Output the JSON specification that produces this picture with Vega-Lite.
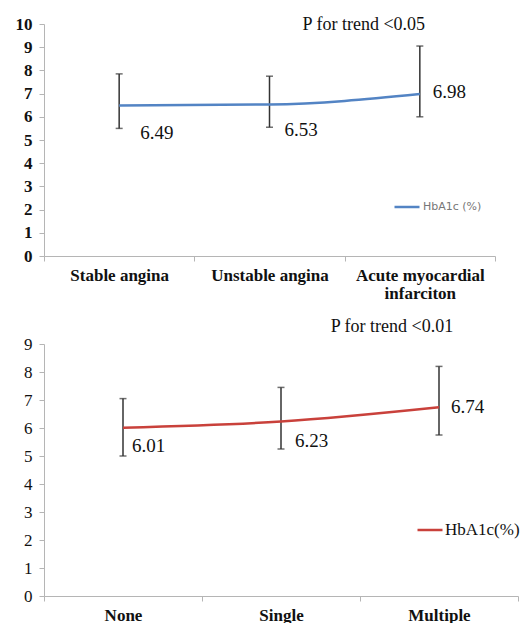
{
  "$schema": "https://vega.github.io/schema/vega-lite/v6.json",
  "padding": {"top": 15, "left": 15, "right": 0, "bottom": 0},
  "spacing": 17,
  "background": "white",
  "config": {
    "font": "Liberation Serif",
    "view": {"stroke": null},
    "text": {"font": "Liberation Serif"},
    "axis": {"labelFont": "Liberation Serif", "labelColor": "#111", "labelFontSize": 17, "domainColor": "#b5b5b5", "tickColor": "#b5b5b5", "tickSize": 5, "grid": false, "title": null},
    "legend": {"labelFont": "Liberation Serif"}
  },
  "resolve": {"scale": {"color": "independent", "x": "independent", "y": "independent"}, "legend": {"color": "independent"}},
  "vconcat": [
    {
      "width": 451,
      "height": 232,
      "data": {"values": [
        {"group": "Stable angina", "mean": 6.49, "low": 5.5, "high": 7.85, "series": "HbA1c (%)"},
        {"group": "Unstable angina", "mean": 6.53, "low": 5.55, "high": 7.75, "series": "HbA1c (%)"},
        {"group": "Acute myocardial infarciton", "mean": 6.98, "low": 6.0, "high": 9.05, "series": "HbA1c (%)"}
      ]},
      "encoding": {
        "x": {"field": "group", "type": "nominal", "sort": null,
          "scale": {"type": "band", "paddingInner": 0, "paddingOuter": 0},
          "axis": {"title": null, "labelAngle": 0, "tickBand": "extent", "labelFont": "Liberation Serif", "labelFontSize": 17, "labelFontWeight": "bold", "labelPadding": 6, "labelLineHeight": 18,
            "labelExpr": "datum.label == 'Acute myocardial infarciton' ? ['Acute myocardial', 'infarciton'] : datum.label"}},
        "y": {"field": "mean", "type": "quantitative", "scale": {"domain": [0, 10]},
          "axis": {"title": null, "values": [0,1,2,3,4,5,6,7,8,9,10], "labelOverlap": false, "labelFont": "Liberation Serif", "labelFontSize": 17, "labelFontWeight": "bold", "labelPadding": 7}}
      },
      "layer": [
        {"mark": {"type": "rule", "strokeWidth": 1.5, "color": "#333"},
         "encoding": {"y": {"field": "low", "type": "quantitative", "scale": {"domain": [0, 10]},
            "axis": {"title": null, "values": [0,1,2,3,4,5,6,7,8,9,10], "labelOverlap": false, "labelFont": "Liberation Serif", "labelFontSize": 17, "labelFontWeight": "bold", "labelPadding": 7}},
           "y2": {"field": "high"}}},
        {"mark": {"type": "tick", "size": 7, "thickness": 1.5, "color": "#333"},
         "encoding": {"y": {"field": "low", "type": "quantitative", "scale": {"domain": [0, 10]},
            "axis": {"title": null, "values": [0,1,2,3,4,5,6,7,8,9,10], "labelOverlap": false, "labelFont": "Liberation Serif", "labelFontSize": 17, "labelFontWeight": "bold", "labelPadding": 7}}}},
        {"mark": {"type": "tick", "size": 7, "thickness": 1.5, "color": "#333"},
         "encoding": {"y": {"field": "high", "type": "quantitative", "scale": {"domain": [0, 10]},
            "axis": {"title": null, "values": [0,1,2,3,4,5,6,7,8,9,10], "labelOverlap": false, "labelFont": "Liberation Serif", "labelFontSize": 17, "labelFontWeight": "bold", "labelPadding": 7}}}},
        {"mark": {"type": "line", "interpolate": "monotone", "strokeWidth": 2.5},
         "encoding": {
           "color": {"field": "series", "type": "nominal", "scale": {"range": ["#5384c4"]},
             "legend": {"orient": "none", "legendX": 349, "legendY": 169, "title": null, "symbolType": "stroke", "symbolSize": 625, "symbolStrokeWidth": 2.5,
               "labelFont": "DejaVu Sans", "labelFontSize": 11, "labelColor": "#777", "labelOffset": 2, "padding": 0}}}},
        {"transform": [{"filter": "datum.group == 'Stable angina'"}],
         "mark": {"type": "text", "align": "left", "baseline": "middle", "dx": 21, "dy": 28, "font": "Liberation Serif", "fontSize": 19, "color": "#111"},
         "encoding": {"text": {"field": "mean", "type": "quantitative", "format": ".2f"}}},
        {"transform": [{"filter": "datum.group == 'Unstable angina'"}],
         "mark": {"type": "text", "align": "left", "baseline": "middle", "dx": 15, "dy": 25, "font": "Liberation Serif", "fontSize": 19, "color": "#111"},
         "encoding": {"text": {"field": "mean", "type": "quantitative", "format": ".2f"}}},
        {"transform": [{"filter": "datum.group == 'Acute myocardial infarciton'"}],
         "mark": {"type": "text", "align": "left", "baseline": "middle", "dx": 13, "dy": -2, "font": "Liberation Serif", "fontSize": 19, "color": "#111"},
         "encoding": {"text": {"field": "mean", "type": "quantitative", "format": ".2f"}}},
        {"transform": [{"filter": "datum.group == 'Acute myocardial infarciton'"}],
         "mark": {"type": "text", "align": "center", "baseline": "middle", "dx": -56, "dy": 1, "font": "Liberation Serif", "fontSize": 18, "color": "#111"},
         "encoding": {"y": {"datum": 10, "type": "quantitative", "scale": {"domain": [0, 10]},
            "axis": {"title": null, "values": [0,1,2,3,4,5,6,7,8,9,10], "labelOverlap": false, "labelFont": "Liberation Serif", "labelFontSize": 17, "labelFontWeight": "bold", "labelPadding": 7}},
           "text": {"value": "P for trend <0.05"}}}
      ]
    },
    {
      "width": 474,
      "height": 252,
      "data": {"values": [
        {"group": "None", "mean": 6.01, "low": 5.0, "high": 7.05, "series": "HbA1c(%)"},
        {"group": "Single", "mean": 6.23, "low": 5.25, "high": 7.45, "series": "HbA1c(%)"},
        {"group": "Multiple", "mean": 6.74, "low": 5.75, "high": 8.2, "series": "HbA1c(%)"}
      ]},
      "encoding": {
        "x": {"field": "group", "type": "nominal", "sort": null,
          "scale": {"type": "band", "paddingInner": 0, "paddingOuter": 0},
          "axis": {"title": null, "labelAngle": 0, "tickBand": "extent", "labelFont": "Liberation Serif", "labelFontSize": 17, "labelFontWeight": "bold", "labelPadding": 6}},
        "y": {"field": "mean", "type": "quantitative", "scale": {"domain": [0, 9]},
          "axis": {"title": null, "values": [0,1,2,3,4,5,6,7,8,9], "labelOverlap": false, "labelFont": "Liberation Serif", "labelFontSize": 17, "labelPadding": 7}}
      },
      "layer": [
        {"mark": {"type": "rule", "strokeWidth": 1.5, "color": "#333"},
         "encoding": {"y": {"field": "low", "type": "quantitative", "scale": {"domain": [0, 9]},
            "axis": {"title": null, "values": [0,1,2,3,4,5,6,7,8,9], "labelOverlap": false, "labelFont": "Liberation Serif", "labelFontSize": 17, "labelPadding": 7}},
           "y2": {"field": "high"}}},
        {"mark": {"type": "tick", "size": 7, "thickness": 1.5, "color": "#333"},
         "encoding": {"y": {"field": "low", "type": "quantitative", "scale": {"domain": [0, 9]},
            "axis": {"title": null, "values": [0,1,2,3,4,5,6,7,8,9], "labelOverlap": false, "labelFont": "Liberation Serif", "labelFontSize": 17, "labelPadding": 7}}}},
        {"mark": {"type": "tick", "size": 7, "thickness": 1.5, "color": "#333"},
         "encoding": {"y": {"field": "high", "type": "quantitative", "scale": {"domain": [0, 9]},
            "axis": {"title": null, "values": [0,1,2,3,4,5,6,7,8,9], "labelOverlap": false, "labelFont": "Liberation Serif", "labelFontSize": 17, "labelPadding": 7}}}},
        {"mark": {"type": "line", "interpolate": "monotone", "strokeWidth": 2.5},
         "encoding": {
           "color": {"field": "series", "type": "nominal", "scale": {"range": ["#c9413b"]},
             "legend": {"orient": "none", "legendX": 372, "legendY": 172, "title": null, "symbolType": "stroke", "symbolSize": 625, "symbolStrokeWidth": 2.5,
               "labelFont": "Liberation Serif", "labelFontSize": 17, "labelColor": "#111", "labelOffset": 1, "padding": 0}}}},
        {"transform": [{"filter": "datum.group == 'None'"}],
         "mark": {"type": "text", "align": "left", "baseline": "middle", "dx": 9, "dy": 18, "font": "Liberation Serif", "fontSize": 19, "color": "#111"},
         "encoding": {"text": {"field": "mean", "type": "quantitative", "format": ".2f"}}},
        {"transform": [{"filter": "datum.group == 'Single'"}],
         "mark": {"type": "text", "align": "left", "baseline": "middle", "dx": 14, "dy": 19, "font": "Liberation Serif", "fontSize": 19, "color": "#111"},
         "encoding": {"text": {"field": "mean", "type": "quantitative", "format": ".2f"}}},
        {"transform": [{"filter": "datum.group == 'Multiple'"}],
         "mark": {"type": "text", "align": "left", "baseline": "middle", "dx": 12, "dy": 0, "font": "Liberation Serif", "fontSize": 19, "color": "#111"},
         "encoding": {"text": {"field": "mean", "type": "quantitative", "format": ".2f"}}},
        {"transform": [{"filter": "datum.group == 'Multiple'"}],
         "mark": {"type": "text", "align": "center", "baseline": "middle", "dx": -47, "dy": -17, "font": "Liberation Serif", "fontSize": 18, "color": "#111"},
         "encoding": {"y": {"datum": 9, "type": "quantitative", "scale": {"domain": [0, 9]},
            "axis": {"title": null, "values": [0,1,2,3,4,5,6,7,8,9], "labelOverlap": false, "labelFont": "Liberation Serif", "labelFontSize": 17, "labelPadding": 7}},
           "text": {"value": "P for trend <0.01"}}}
      ]
    }
  ]
}
